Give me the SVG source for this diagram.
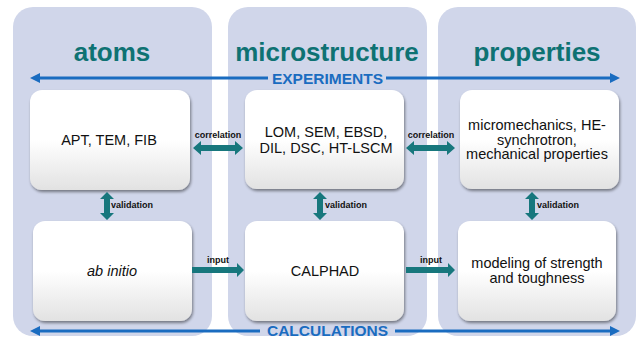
<svg xmlns="http://www.w3.org/2000/svg" width="637" height="338" viewBox="0 0 637 338">
<defs>
<linearGradient id="g" x1="0" y1="0" x2="0" y2="1">
<stop offset="0" stop-color="#ffffff"/>
<stop offset="0.5" stop-color="#ffffff"/>
<stop offset="1" stop-color="#e2e2e2"/>
</linearGradient>
<filter id="sh" x="-10%" y="-10%" width="125%" height="125%">
<feGaussianBlur in="SourceAlpha" stdDeviation="1.5"/>
<feOffset dx="1" dy="2"/>
<feComponentTransfer><feFuncA type="linear" slope="0.45"/></feComponentTransfer>
<feMerge><feMergeNode/><feMergeNode in="SourceGraphic"/></feMerge>
</filter>
</defs>
<style>
.panel{fill:#d0d6ea}
.title{font-family:"Liberation Sans",Arial,sans-serif;font-weight:bold;font-size:26px;fill:#0e7273;text-anchor:middle}
.box{fill:url(#g);filter:url(#sh)}
.t{font-family:"Liberation Sans",Arial,sans-serif;font-size:14.5px;fill:#111;text-anchor:middle}
.band{font-family:"Liberation Sans",Arial,sans-serif;font-weight:bold;font-size:15.5px;fill:#1a6cc0;text-anchor:middle}
.bl{stroke:#1a6cc0;stroke-width:3;fill:none}
.bh{fill:#1a6cc0}
.ta{fill:#17777d}
.sm{font-family:"Liberation Sans",Arial,sans-serif;font-weight:bold;font-size:9px;fill:#111}
</style>
<rect width="637" height="338" fill="#ffffff"/>
<g id="panels">
<rect class="panel" x="13" y="7" width="199" height="329" rx="20"/>
<rect class="panel" x="228" y="7" width="199" height="329" rx="20"/>
<rect class="panel" x="438" y="7" width="198" height="329" rx="20"/>
<text class="title" x="112" y="61">atoms</text>
<text class="title" x="327" y="61">microstructure</text>
<text class="title" x="537" y="61">properties</text>
</g>
<g id="bands">
<line class="bl" x1="36" y1="78" x2="268" y2="78"/>
<line class="bl" x1="386" y1="78" x2="612" y2="78"/>
<polygon class="bh" points="30,78 40,73 40,83"/>
<polygon class="bh" points="620,78 610,73 610,83"/>
<text class="band" x="327.5" y="84">EXPERIMENTS</text>
<line class="bl" x1="36" y1="331" x2="260" y2="331"/>
<line class="bl" x1="395" y1="331" x2="612" y2="331"/>
<polygon class="bh" points="30,331 40,326 40,336"/>
<polygon class="bh" points="620,331 610,326 610,336"/>
<text class="band" x="327.5" y="336">CALCULATIONS</text>
</g>
<g id="n-apt"><rect class="box" x="30" y="90" width="160" height="100" rx="12"/><text class="t" x="109" y="145">APT, TEM, FIB</text></g>
<g id="n-lom"><rect class="box" x="245" y="90" width="159" height="99" rx="12"/><text class="t" x="326" y="137" font-size="15.5">LOM, SEM, EBSD,</text><text class="t" x="326" y="153" font-size="15.5">DIL, DSC, HT-LSCM</text></g>
<g id="n-micro"><rect class="box" x="460" y="90" width="159" height="99" rx="12"/><text class="t" x="537" y="130" font-size="14">micromechanics, HE-</text><text class="t" x="537" y="144.5" font-size="14">synchrotron,</text><text class="t" x="537" y="159" font-size="14">mechanical properties</text></g>
<g id="n-abinitio"><rect class="box" x="33" y="221" width="159" height="100" rx="12"/><text class="t" x="112" y="276" font-style="italic">ab initio</text></g>
<g id="n-calphad"><rect class="box" x="245" y="221" width="159" height="100" rx="12"/><text class="t" x="325" y="276">CALPHAD</text></g>
<g id="n-model"><rect class="box" x="458" y="221" width="158" height="100" rx="12"/><text class="t" x="537" y="268">modeling of strength</text><text class="t" x="537" y="283">and toughness</text></g>
<g id="connectors">
<polygon class="ta" points="193,148 201,141 201,145 235,145 235,141 243,148 235,155 235,151 201,151 201,155"/>
<text class="sm" x="218" y="138" text-anchor="middle">correlation</text>
<polygon class="ta" points="406,148 414,141 414,145 447,145 447,141 455,148 447,155 447,151 414,151 414,155"/>
<text class="sm" x="431" y="138" text-anchor="middle">correlation</text>
<polygon class="ta" points="107,192 114,199 110,199 110,213 114,213 107,220 100,213 104,213 104,199 100,199"/>
<text class="sm" x="111" y="208">validation</text>
<polygon class="ta" points="320,192 327,199 323,199 323,213 327,213 320,220 313,213 317,213 317,199 313,199"/>
<text class="sm" x="325" y="208">validation</text>
<polygon class="ta" points="532,192 539,199 535,199 535,213 539,213 532,220 525,213 529,213 529,199 525,199"/>
<text class="sm" x="537" y="208">validation</text>
<polygon class="ta" points="192,267 237,267 237,263 244,270 237,277 237,273 192,273"/>
<text class="sm" x="218" y="263" text-anchor="middle">input</text>
<polygon class="ta" points="406,267 448,267 448,263 455,270 448,277 448,273 406,273"/>
<text class="sm" x="431" y="263" text-anchor="middle">input</text>
</g>
</svg>
